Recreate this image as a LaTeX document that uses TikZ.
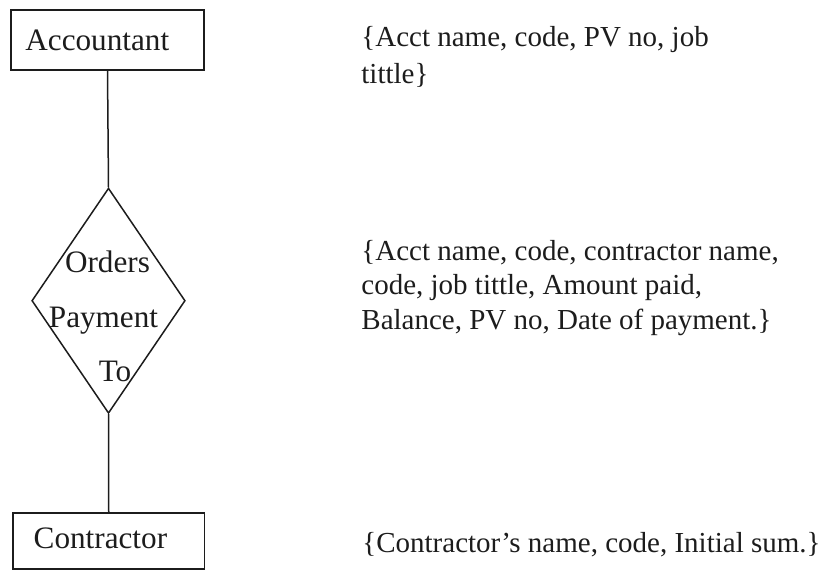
\documentclass[tikz,border=0pt]{standalone}
\usepackage{fontspec}
\setmainfont{Liberation Serif}
\usetikzlibrary{shapes.geometric}
\definecolor{ink}{HTML}{1C1C1C}
\tikzset{
  entity/.style={draw=ink, line width=0.75pt, rectangle, inner sep=0pt},
  relation/.style={draw=ink, line width=0.75pt, diamond, inner sep=0pt},
  link/.style={draw=ink, line width=0.75pt},
  lbl/.style={text=ink, inner sep=0pt, anchor=base west, font=\fontsize{15.6}{18}\selectfont},
  rlbl/.style={text=ink, inner sep=0pt, anchor=base, font=\fontsize{15.6}{18}\selectfont},
  % multi-line lists are placed by the baseline of their last line
  attrs/.style={text=ink, inner sep=0pt, anchor=base west, align=left}
}
\begin{document}
\begin{tikzpicture}[x=0.5pt, y=-0.5pt]
  \useasboundingbox (0,0) rectangle (833,569);

  % entities and relationship
  \node[entity, minimum width=96.5pt, minimum height=30pt] (acc) at (107.5,40) {};
  \node[lbl] (acctxt) at (25,50) {Accountant};

  \node[relation, minimum width=76.7pt, minimum height=112.6pt] (rel) at (108.5,300.7) {};
  \node[rlbl] (r1) at (107.5,272) {Orders};
  \node[rlbl] (r2) at (103.5,327) {Payment};
  \node[rlbl] (r3) at (115,381) {To};

  \node[entity, minimum width=95.75pt, minimum height=28pt] (con) at (108.75,541) {};
  \node[lbl] (contxt) at (33.3,548.3) {Contractor};

  % connectors
  \draw[link] (acc.south) -- (rel.north);
  \draw[link] (rel.south) -- (con.north);

  % attribute lists
  \node[attrs, font=\fontsize{14.5}{18.2}\selectfont] (accattr) at (361,83.3) {\{Acct name, code, PV no, job\\tittle\}};
  \node[attrs, font=\fontsize{14.5}{17.3}\selectfont] (relattr) at (361,329.5) {\{Acct name, code, contractor name,\\code, job tittle, Amount paid,\\Balance, PV no, Date of payment.\}};
  \node[attrs, font=\fontsize{14.5}{17.3}\selectfont] (conattr) at (362,552) {\{Contractor’s name, code, Initial sum.\}};
\end{tikzpicture}
\end{document}
